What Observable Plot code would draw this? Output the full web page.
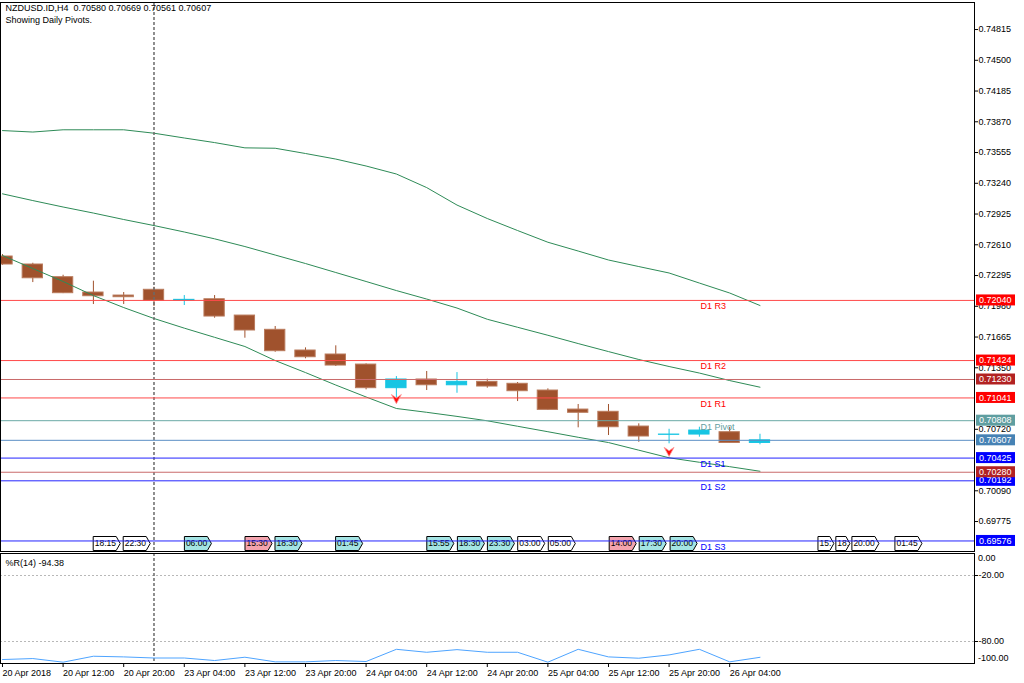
<!DOCTYPE html>
<html>
<head>
<meta charset="utf-8">
<script src="https://cdn.jsdelivr.net/npm/d3@7"></script>
<script src="https://cdn.jsdelivr.net/npm/@observablehq/plot@0.6"></script>
<style>
  html, body { margin: 0; padding: 0; background: #fff; }
  #wrap { position: relative; width: 1024px; height: 683px; overflow: hidden; font-family: "Liberation Sans", Arial, sans-serif; }
  #main { position: absolute; left: 0; top: 0; }
  #sub { position: absolute; left: 0; top: 552px; }
</style>
</head>
<body>
<div id="wrap"><div id="main"></div><div id="sub"></div></div>
<script>
// ---------------- DATA ----------------
const symbolTitle = "NZDUSD.ID,H4  0.70580 0.70669 0.70561 0.70607";
const subTitle = "Showing Daily Pivots.";
const wprTitle = "%R(14) -94.38";

const barTimes = ["20 Apr 04:00","20 Apr 08:00","20 Apr 12:00","20 Apr 16:00","20 Apr 20:00",
  "23 Apr 00:00","23 Apr 04:00","23 Apr 08:00","23 Apr 12:00","23 Apr 16:00","23 Apr 20:00",
  "24 Apr 00:00","24 Apr 04:00","24 Apr 08:00","24 Apr 12:00","24 Apr 16:00","24 Apr 20:00",
  "25 Apr 00:00","25 Apr 04:00","25 Apr 08:00","25 Apr 12:00","25 Apr 16:00","25 Apr 20:00",
  "26 Apr 00:00","26 Apr 04:00","26 Apr 08:00"];
const open  = [0.72490,0.72408,0.72278,0.72121,0.72090,0.72149,0.72039,0.72052,0.71885,0.71739,0.71527,0.71486,0.71383,0.71141,0.71230,0.71171,0.71206,0.71186,0.71117,0.70922,0.70899,0.70748,0.70663,0.70666,0.70690,0.70580];
const high  = [0.72510,0.72421,0.72298,0.72237,0.72121,0.72175,0.72090,0.72090,0.71885,0.71773,0.71554,0.71575,0.71390,0.71260,0.71312,0.71301,0.71233,0.71199,0.71134,0.70974,0.70974,0.70776,0.70720,0.70741,0.70741,0.70669];
const low   = [0.72400,0.72223,0.72110,0.71998,0.71998,0.71977,0.71988,0.71858,0.71653,0.71509,0.71442,0.71363,0.71124,0.71042,0.71117,0.71089,0.71141,0.71004,0.70915,0.70735,0.70656,0.70587,0.70571,0.70639,0.70575,0.70561];
const close = [0.72408,0.72267,0.72114,0.72083,0.72073,0.72036,0.72046,0.71875,0.71732,0.71520,0.71458,0.71373,0.71141,0.71230,0.71171,0.71206,0.71158,0.71110,0.70919,0.70889,0.70741,0.70646,0.70666,0.70707,0.70580,0.70607];

const upperBand  = [0.73780,0.73765,0.73788,0.73788,0.73788,0.73753,0.73704,0.73657,0.73603,0.73599,0.73545,0.73488,0.73417,0.73335,0.73196,0.73017,0.72879,0.72756,0.72636,0.72546,0.72454,0.72387,0.72321,0.72218,0.72116,0.71988];
const middleBand = [0.73132,0.73063,0.72997,0.72935,0.72869,0.72807,0.72741,0.72671,0.72592,0.72505,0.72418,0.72326,0.72234,0.72141,0.72054,0.71962,0.71847,0.71765,0.71683,0.71598,0.71516,0.71435,0.71363,0.71296,0.71219,0.71151];
const lowerBand  = [0.72500,0.72367,0.72234,0.72090,0.71967,0.71855,0.71756,0.71662,0.71568,0.71424,0.71301,0.71173,0.71051,0.70933,0.70894,0.70852,0.70807,0.70751,0.70695,0.70638,0.70584,0.70506,0.70428,0.70382,0.70337,0.70290];

const wpr = [-96.4,-95.5,-98.8,-93.4,-94.0,-95.0,-95.0,-97.3,-94.3,-98.5,-98.5,-97.3,-98.2,-87.1,-89.8,-87.4,-89.8,-89.8,-98.8,-87.1,-94.0,-95.2,-92.2,-87.1,-98.5,-94.38];

const pivotNames  = ["D1 R3","D1 R2","D1 R1","D1 Pivot","D1 S1","D1 S2","D1 S3"];
const pivotValues = [0.72040,0.71424,0.71041,0.70808,0.70425,0.70192,0.69576];
const pivotKinds  = ["R","R","R","P","S","S","S"];
const extraLevels = [0.71230,0.70280];
const bidPrice = 0.70607;

const priceTicks = [0.74815,0.74500,0.74185,0.73870,0.73555,0.73240,0.72925,0.72610,0.72295,0.71980,0.71665,0.71350,0.70720,0.70090,0.69775];
const xTickIdx = [0,2,4,6,8,10,12,14,16,18,20,22,24];
const xTickLabels = ["20 Apr 2018","20 Apr 12:00","20 Apr 20:00","23 Apr 04:00","23 Apr 12:00","23 Apr 20:00","24 Apr 04:00","24 Apr 12:00","24 Apr 20:00","25 Apr 04:00","25 Apr 12:00","25 Apr 20:00","26 Apr 04:00"];
const wprTicks = [-20,-80];
const wprEdgeTicks = [0,-100];

const eventLabels = ["18:15","22:30","06:00","15:30","18:30","01:45","15:55","18:30","23:30","03:00","05:00","14:00","17:30","20:00","15:","18:","20:00","01:45"];
const eventPos    = [3.01,4.0,6.02,8.02,9.01,11.01,14.02,15.03,16.02,17.02,18.03,20.04,21.03,22.05,26.93,27.52,28.05,29.47];
const eventKind   = ["low","low","med","high","med","med","med","med","med","low","low","high","med","med","low","low","low","low"];

const arrowBars   = [13,22];
const arrowPrices = [0.71033,0.70492];
const separatorBar = 5;
const pivotLabelBar = 23.04;

// ---------------- STYLE ----------------
const DOWN = "#a0522d", UP = "#17c5e3";
const lineCol = {R: "#ff4a4a", P: "#6aa9a6", S: "#2323ff", X: "#c96a6a", B: "#5b8fc4"};
const boxCol  = {R: "#ff0000", P: "#5f9ea0", S: "#0000ff", X: "#b22222", B: "#4682b4"};
const evFill  = {low: "#ffffff", med: "#a4e4e4", high: "#f4a4ae"};
const FONT = "'Liberation Sans', Arial, sans-serif";
const xDomain = [-0.066, 32.08];

// ---------------- TABLES ----------------
const candles = close.map((c, i) => ({i, t: barTimes[i], o: open[i], h: high[i], l: low[i], c, up: c > open[i]}));
const bands = close.flatMap((_, i) => [
  {i, v: upperBand[i], k: "upper"}, {i, v: middleBand[i], k: "middle"}, {i, v: lowerBand[i], k: "lower"}]);
const pivots = pivotNames.map((name, k) => ({name, v: pivotValues[k], kind: pivotKinds[k]}));
const levels = [...pivots.map(p => ({v: p.v, kind: p.kind})),
  ...extraLevels.map(v => ({v, kind: "X"})), {v: bidPrice, kind: "B"}];
const arrows = arrowBars.map((i, k) => ({i, v: arrowPrices[k]}));
const wprData = wpr.map((v, i) => ({i, v}));

const arrowSymbol = {
  draw(ctx, size) {
    const r = Math.sqrt(size / Math.PI);
    ctx.moveTo(0, r);
    ctx.lineTo(-r, -r * 0.85);
    ctx.lineTo(0, -r * 0.15);
    ctx.lineTo(r, -r * 0.85);
    ctx.closePath();
  }
};

function eventMarks(index, scales, values, dims) {
  const g = d3.create("svg:g");
  const bottom = dims.height - dims.marginBottom;
  const xs = eventPos.map(p => scales.x(p));
  xs.forEach((x0, k) => {
    const next = k < xs.length - 1 ? xs[k + 1] : Infinity;
    const w = Math.min(27, next - x0 - 2);
    const x1 = x0 + w, t = bottom - 14.5, b = bottom - 0.5, m = (t + b) / 2;
    g.append("path")
      .attr("d", `M${x0},${t}H${x1 - 4}L${x1},${m}L${x1 - 4},${b}H${x0}Z`)
      .attr("fill", evFill[eventKind[k]]).attr("stroke", "#000").attr("stroke-width", 1);
    g.append("text").attr("x", x0 + 1.5).attr("y", m).attr("dy", "0.35em")
      .attr("text-anchor", "start")
      .attr("font-size", 8.5).attr("font-family", FONT).attr("fill", "#000")
      .text(eventLabels[k]);
  });
  return g.node();
}

function valueBoxes(index, scales, values, dims) {
  const g = d3.create("svg:g");
  const x0 = dims.width - dims.marginRight + 2;
  levels.forEach(d => {
    const y = scales.y(d.v);
    g.append("rect").attr("x", x0).attr("y", y - 5.5).attr("width", 39).attr("height", 11)
      .attr("fill", boxCol[d.kind]);
    g.append("text").attr("x", x0 + 3).attr("y", y).attr("dy", "0.35em")
      .attr("text-anchor", "start")
      .attr("font-size", 9).attr("font-family", FONT).attr("fill", "#fff")
      .text(d.v.toFixed(5));
  });
  return g.node();
}

function wprEdgeLabels(index, scales, values, dims) {
  const g = d3.create("svg:g");
  const x0 = dims.width - dims.marginRight;
  wprEdgeTicks.forEach(v => {
    const y = scales.y(v);
    const yy = v === 0 ? y + 5 : y - 5;
    g.append("text").attr("x", x0 + 4).attr("y", yy).attr("dy", "0.35em")
      .attr("text-anchor", "start")
      .attr("font-size", 9).attr("font-family", FONT).attr("fill", "#000")
      .text(v.toFixed(2));
  });
  return g.node();
}

// ---------------- MAIN PANEL ----------------
const main = Plot.plot({
  width: 1024, height: 552,
  marginLeft: 0, marginRight: 50, marginTop: 2, marginBottom: 1,
  style: {fontFamily: FONT, fontSize: "9px", background: "#fff", overflow: "visible"},
  x: {type: "linear", domain: xDomain, axis: null},
  y: {domain: [0.69468, 0.75092], axis: null},
  marks: [
    Plot.ruleX(candles, {x: "i", y1: "l", y2: "h", stroke: d => d.up ? UP : DOWN, strokeWidth: 1, clip: true}),
    Plot.rect(candles, {x1: d => d.i - 0.335, x2: d => d.i + 0.335, y1: "o", y2: "c",
      fill: d => d.up ? UP : DOWN, stroke: d => d.up ? UP : "#b97a5c", strokeWidth: 1, clip: true}),
    Plot.line(bands, {x: "i", y: "v", z: "k", stroke: "#2e8b57", strokeWidth: 1, clip: true}),
    Plot.ruleX([separatorBar], {x: d => d, stroke: "#6a6a6a", strokeWidth: 1.5, strokeDasharray: "3,2"}),
    eventMarks,
    Plot.ruleY(levels, {y: "v", stroke: d => lineCol[d.kind], strokeWidth: 1}),
    Plot.text(pivots, {x: () => pivotLabelBar, y: "v", text: "name", dy: 6, textAnchor: "start",
      fill: d => boxCol[d.kind], fontSize: 9}),
    Plot.dot(arrows, {x: "i", y: "v", symbol: arrowSymbol, r: 5, fill: "#ff1010", stroke: "#ff9c9c", strokeWidth: 0.8}),
    Plot.axisY({anchor: "right", ticks: priceTicks, tickFormat: d => d.toFixed(5), tickSize: 3, tickPadding: 1, fontSize: 9, label: null}),
    valueBoxes,
    Plot.frame({stroke: "#000"}),
    Plot.text([symbolTitle], {frameAnchor: "top-left", text: d => d, dx: 5, dy: 6, lineAnchor: "middle", textAnchor: "start", fontSize: 9, fill: "#000"}),
    Plot.text([subTitle], {frameAnchor: "top-left", text: d => d, dx: 5, dy: 18, lineAnchor: "middle", textAnchor: "start", fontSize: 9, fill: "#000"})
  ]
});
document.getElementById("main").append(main);

// ---------------- %R PANEL ----------------
const sub = Plot.plot({
  width: 1024, height: 131,
  marginLeft: 0, marginRight: 50, marginTop: 1, marginBottom: 20,
  style: {fontFamily: FONT, fontSize: "9px", background: "#fff", overflow: "visible"},
  x: {type: "linear", domain: xDomain},
  y: {domain: [-100, 0]},
  marks: [
    Plot.ruleY(wprTicks, {y: d => d, stroke: "#b8b8b8", strokeDasharray: "2,2"}),
    Plot.ruleX([separatorBar], {x: d => d, stroke: "#6a6a6a", strokeWidth: 1.5, strokeDasharray: "3,2"}),
    Plot.line(wprData, {x: "i", y: "v", stroke: "#4ea4ff", strokeWidth: 1, clip: true}),
    Plot.frame({stroke: "#000"}),
    Plot.axisX({ticks: xTickIdx, tickFormat: d => xTickLabels[xTickIdx.indexOf(d)], tickSize: 4, tickPadding: 2,
      textAnchor: "start", fontSize: 9, label: null}),
    Plot.axisY({anchor: "right", ticks: wprTicks, tickFormat: d => d.toFixed(2), tickSize: 3, tickPadding: 1, fontSize: 9, label: null}),
    wprEdgeLabels,
    Plot.text([wprTitle], {frameAnchor: "top-left", text: d => d, dx: 5, dy: 10, lineAnchor: "middle", textAnchor: "start", fontSize: 9, fill: "#000"})
  ]
});
document.getElementById("sub").append(sub);
</script>
</body>
</html>
